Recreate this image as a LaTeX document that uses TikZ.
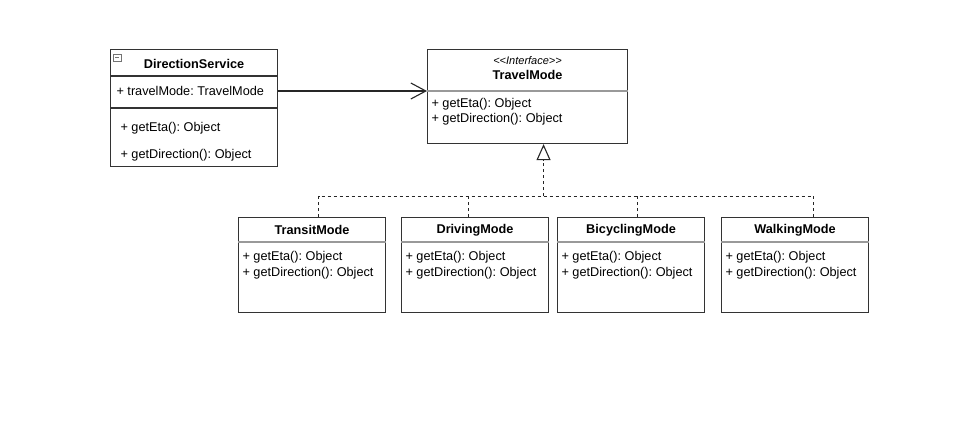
\documentclass[tikz,border=0pt]{standalone}
\usepackage{fontspec}
\setmainfont{Liberation Sans}
\usetikzlibrary{arrows.meta}

\begin{document}
\frenchspacing
\begin{tikzpicture}[x=1pt,y=-1pt,line width=1.1pt,
        classbox/.style={draw=black!80,fill=white,anchor=north west,inner sep=0pt},
        sep/.style={draw=black!40},
        title/.style={font=\fontsize{12.7}{15}\selectfont\bfseries,inner sep=0pt},
        member/.style={font=\fontsize{12.7}{16}\selectfont,anchor=west,align=left,inner sep=0pt},
        assoc/.style={draw=black!85,-{Straight Barb[length=15pt,width=16pt]}},
        realize/.style={draw=black!85,dash pattern=on 3pt off 3pt}]
    \useasboundingbox (0,0) rectangle (959,428);

    % the service that holds a mode
    \node[classbox,minimum width=167pt,minimum height=117pt] (ds) at (110,49) {};
    \node[title] (dsname) at ([yshift=-15pt]ds.north) {DirectionService};
    \draw[black!55,line width=0.8pt] ([xshift=3pt,yshift=-5pt]ds.north west) rectangle +(8,7)
        ([xshift=5pt,yshift=-8.5pt]ds.north west) -- +(4,0);
    \draw[black!80] ([yshift=-27pt]ds.north west) -- ([yshift=-27pt]ds.north east)
        ([yshift=-59pt]ds.north west) -- ([yshift=-59pt]ds.north east);
    \node[member] (dsattr) at ([xshift=6pt,yshift=-42pt]ds.north west) {+ travelMode: TravelMode};
    \node[member] (dseta) at ([xshift=10pt,yshift=-79pt]ds.north west) {+ getEta(): Object};
    \node[member] (dsdir) at ([xshift=10pt,yshift=-106pt]ds.north west) {+ getDirection(): Object};

    % the interface
    \node[classbox,minimum width=200pt,minimum height=94pt] (tm) at (427,49) {};
    \node[font=\fontsize{11}{13}\selectfont\itshape,inner sep=0pt] (tmstereo) at ([yshift=-12pt]tm.north) {<{}<Interface>{}>};
    \node[title] (tmname) at ([yshift=-26pt]tm.north) {TravelMode};
    \draw[sep] ([yshift=-42pt]tm.north west) -- ([yshift=-42pt]tm.north east);
    \node[member,font=\fontsize{12.7}{15}\selectfont] (tmops) at ([xshift=4pt,yshift=-63pt]tm.north west)
        {+ getEta(): Object\\+ getDirection(): Object};

    % the four modes
    \node[classbox,minimum width=147pt,minimum height=95pt] (tr) at (238,217) {};
    \node[title] (trname) at ([yshift=-13pt]tr.north) {TransitMode};
    \draw[sep] ([yshift=-25pt]tr.north west) -- ([yshift=-25pt]tr.north east);
    \node[member] (trops) at ([xshift=4pt,yshift=-48.5pt]tr.north west)
        {+ getEta(): Object\\+ getDirection(): Object};

    \node[classbox,minimum width=147pt,minimum height=95pt] (dr) at (401,217) {};
    \node[title] (drname) at ([yshift=-13pt]dr.north) {DrivingMode};
    \draw[sep] ([yshift=-25pt]dr.north west) -- ([yshift=-25pt]dr.north east);
    \node[member] (drops) at ([xshift=4pt,yshift=-48.5pt]dr.north west)
        {+ getEta(): Object\\+ getDirection(): Object};

    \node[classbox,minimum width=147pt,minimum height=95pt] (bc) at (557,217) {};
    \node[title] (bcname) at ([yshift=-13pt]bc.north) {BicyclingMode};
    \draw[sep] ([yshift=-25pt]bc.north west) -- ([yshift=-25pt]bc.north east);
    \node[member] (bcops) at ([xshift=4pt,yshift=-48.5pt]bc.north west)
        {+ getEta(): Object\\+ getDirection(): Object};

    \node[classbox,minimum width=147pt,minimum height=95pt] (wk) at (721,217) {};
    \node[title] (wkname) at ([yshift=-13pt]wk.north) {WalkingMode};
    \draw[sep] ([yshift=-25pt]wk.north west) -- ([yshift=-25pt]wk.north east);
    \node[member] (wkops) at ([xshift=4pt,yshift=-48.5pt]wk.north west)
        {+ getEta(): Object\\+ getDirection(): Object};

    % connectors
    \draw[assoc] (dsattr -| ds.east) -- (dsattr -| tm.west);
    \coordinate (bus) at ([xshift=16pt,yshift=-52pt]tm.south);
    \draw[realize,-{Triangle[open,length=16pt,width=14pt]}] (bus) -- ([xshift=16pt]tm.south);
    \draw[realize] ([xshift=6.5pt]tr.north) |- (bus) -| ([xshift=18.5pt]wk.north);
    \draw[realize] ([xshift=-6.5pt]dr.north) -- ([xshift=-6.5pt]dr.north |- bus);
    \draw[realize] ([xshift=6.5pt]bc.north) -- ([xshift=6.5pt]bc.north |- bus);
\end{tikzpicture}
\end{document}
